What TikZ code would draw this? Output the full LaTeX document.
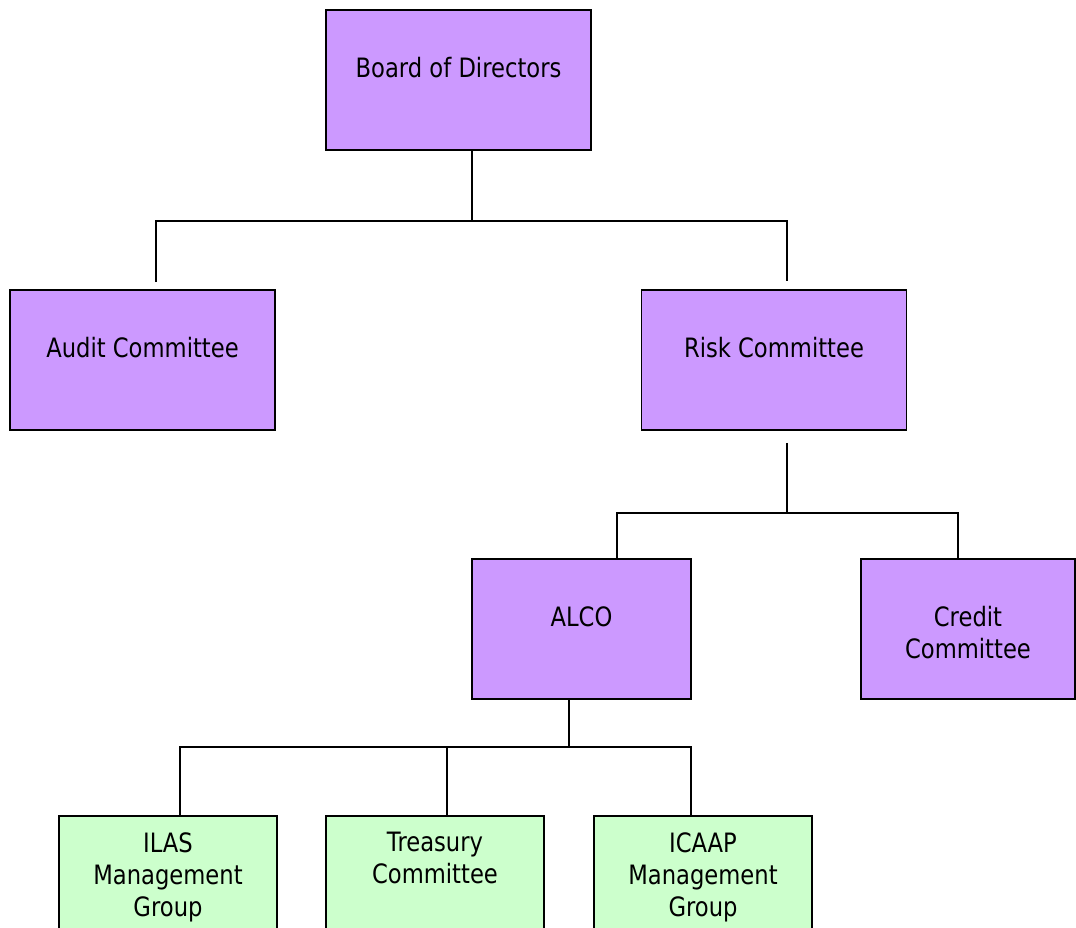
\documentclass[tikz,border=0pt]{standalone}
\usepackage{fontspec}
\setmainfont{DejaVu Sans}[FakeStretch=0.85]
\usetikzlibrary{positioning,calc}
\definecolor{boxpurple}{HTML}{CC99FF}
\definecolor{boxgreen}{HTML}{CCFFCC}

\begin{document}
\begin{tikzpicture}[x=0.75pt,y=-0.75pt]
	\tikzstyle{block} = [draw,rectangle,line width=1.4pt,fill=boxpurple,minimum width=198.75pt,minimum height=105pt,inner sep=0pt]
	\tikzstyle{block2} = [draw,rectangle,line width=1.4pt,fill=boxpurple,minimum width=164.25pt,minimum height=105pt,inner sep=0pt]
	\tikzstyle{block3} = [draw,rectangle,line width=1.4pt,fill=boxgreen,minimum width=163.5pt,minimum height=105pt,inner sep=0pt]
	\tikzset{
		txt/.style={font=\fontsize{20pt}{24pt}\selectfont,align=center,inner sep=0pt,text=black},
		conn/.style={draw,line width=1.3pt,black}
	}
	\useasboundingbox (0,0) rectangle (1076,928);
	
	% top levels
	\node[block] (Board) at (458.5,80) {};
	\node[block] (Audit) at (142.5,360) {};
	\node[block] (Risk) at (774,360) {};
	\node[block2] (ALCO) at (581.5,629) {};
	\node[block2,minimum width=160.5pt] (Credit) at (968,629) {};
	% groups under ALCO
	\node[block3] (ILAS) at (168,886) {};
	\node[block3] (Treasury) at (435,886) {};
	\node[block3] (ICAAP) at (703,886) {};
	
	\node[txt,below=36pt of Board.north] (BoardTxt) {Board of Directors};
	\node[txt,below=36pt of Audit.north] (AuditTxt) {Audit Committee};
	\node[txt,below=36pt of Risk.north] (RiskTxt) {Risk Committee};
	\node[txt,below=36pt of ALCO.north] (ALCOTxt) {ALCO};
	\node[txt,below=36pt of Credit.north] (CreditTxt) {Credit\\Committee};
	\node[txt,below=12.75pt of ILAS.north] (ILASTxt) {ILAS\\Management\\Group};
	\node[txt,below=12.75pt of Treasury.north] (TreasuryTxt) {Treasury\\Committee};
	\node[txt,below=12.75pt of ICAAP.north] (ICAAPTxt) {ICAAP\\Management\\Group};
	
	\coordinate (bus1) at ([xshift=10.1pt,yshift=-52.5pt]Board.south);
	\coordinate (bus2) at ([xshift=9.75pt,yshift=-61.5pt]Risk.south);
	\coordinate (bus3) at ([xshift=-9.4pt,yshift=-35.25pt]ALCO.south);
	
	\draw[conn] ([xshift=10.1pt]Board.south) -- (bus1);
	\draw[conn] ([xshift=10.1pt,yshift=5.25pt]Audit.north) |- (bus1) -| ([xshift=9.75pt,yshift=6pt]Risk.north);
	
	\draw[conn] ([xshift=9.75pt,yshift=-9pt]Risk.south) -- (bus2);
	\draw[conn] ([xshift=26.6pt]ALCO.north) |- (bus2) -| ([xshift=-7.5pt]Credit.north);
	
	\draw[conn] ([xshift=-9.4pt]ALCO.south) -- (bus3);
	\draw[conn] ([xshift=9pt]ILAS.north) |- (bus3) -| ([xshift=-9pt]ICAAP.north);
	\draw[conn] ([xshift=9pt]Treasury.north) -- ([xshift=9pt]Treasury.north |- bus3);
\end{tikzpicture}
\end{document}
